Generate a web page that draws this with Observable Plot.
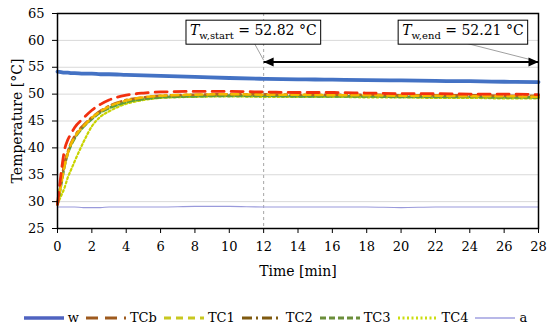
<!DOCTYPE html>
<html><head><meta charset="utf-8">
<script src="https://cdn.jsdelivr.net/npm/d3@7"></script>
<script src="https://cdn.jsdelivr.net/npm/@observablehq/plot@0.6"></script>
<style>
body{margin:0;background:#fff;font-family:"DejaVu Serif",serif;}
#legend{display:flex;justify-content:center;align-items:center;gap:6px;font-size:13px;padding-top:10px;width:550px;}
#legend .it{display:flex;align-items:center;gap:3px;}
</style>
</head><body>
<div id="chart"></div>
<div id="legend"></div>
<script>
// ---- data ----
const time = [0,0.2,0.4,0.6,0.8,1,1.5,2,2.5,3,4,5,6,8,10,12,14,16,18,20,22,24,26,28];
const w   = [54.2,54.1,54.0,54.0,53.9,53.9,53.8,53.8,53.7,53.7,53.6,53.5,53.4,53.2,53.0,52.85,52.75,52.7,52.6,52.55,52.45,52.4,52.3,52.25];
const TCb = [29.5,35,39.5,41.5,42.7,43.8,45.5,47,48.1,48.9,49.8,50.2,50.4,50.5,50.5,50.4,50.3,50.3,50.2,50.1,50.1,50.0,50.0,49.9];
const TC1 = [29.5,33,36.5,39,40.8,42,44,45.6,46.8,47.7,48.8,49.4,49.7,49.9,50.0,49.9,49.9,49.8,49.8,49.7,49.7,49.6,49.6,49.5];
const TC2 = [29.5,33.5,37,39.3,41,42.2,44.2,45.7,46.9,47.8,48.9,49.4,49.7,49.9,50.0,50.0,49.9,49.9,49.9,49.8,49.8,49.8,49.7,49.7];
const TC3 = [29.5,33,36.5,39,40.6,41.8,43.9,45.4,46.6,47.4,48.5,49.1,49.4,49.6,49.7,49.7,49.6,49.6,49.6,49.5,49.5,49.5,49.4,49.4];
const TC4 = [29.5,31,32.5,34.5,36,37.5,41,44,45.8,46.8,48.2,48.9,49.3,49.5,49.6,49.5,49.5,49.5,49.4,49.4,49.3,49.3,49.2,49.2];
const a   = [29.0,29.0,29.0,29.0,29.0,29.0,28.9,28.9,28.9,29.0,29.0,29.0,29.0,29.1,29.1,29.0,29.0,29.0,29.0,28.9,29.0,29.0,29.0,29.0];

const xTicks = [0,2,4,6,8,10,12,14,16,18,20,22,24,26,28];
const yTicks = [25,30,35,40,45,50,55,60,65];

const seriesNames = ["w","TCb","TC1","TC2","TC3","TC4","a"];
const seriesValues = [w,TCb,TC1,TC2,TC3,TC4,a];
const lineColors = ["#4472C4","#F2300F","#F5B800","#B8651A","#5E9E3A","#C9D400","#9A9ADB"];
const legendColors = ["#4F63C0","#9E5A1E","#C8C820","#7F5A10","#6B8E3A","#CCDD10","#A0A0E0"];
const dashes = [null,"12,7","7,5","10,4,2,4","6,3","2,2.5",null];
const widths = [3.8,2.8,2.5,2.5,2.8,2.2,1.2];

// annotations
const markTime = 12;
const arrowStart = 12, arrowEnd = 28, arrowTemp = 56;
const annoTime = [11.4, 23.6];
const annoTemp = [61.8, 61.8];
const annoSub = ["w,start","w,end"];
const annoVal = ["52.82","52.21"];
const leaderX1 = [11.4, 23.5], leaderY1 = [59.8, 59.7];
const leaderX2 = [12.0, 27.8], leaderY2 = [56.3, 56.2];

const rows = [];
seriesNames.forEach((s,k)=>time.forEach((t,i)=>rows.push({s,t,v:seriesValues[k][i]})));

const lineMarks = seriesNames.map((s,k)=>Plot.line(rows.filter(d=>d.s===s),{
  x:"t", y:"v", stroke:lineColors[k], strokeWidth:widths[k],
  strokeDasharray:dashes[k]||undefined, curve:"monotone-x"
}));

// filled arrowheads whose tip sits at the anchor point
const headRight = {draw(ctx){ctx.moveTo(0,0);ctx.lineTo(-10,-4.5);ctx.lineTo(-10,4.5);ctx.closePath();}};
const headLeft  = {draw(ctx){ctx.moveTo(0,0);ctx.lineTo(10,-4.5);ctx.lineTo(10,4.5);ctx.closePath();}};

const chart = Plot.plot({
  width:550, height:300,
  marginLeft:57, marginRight:12, marginTop:13, marginBottom:72,
  style:{fontFamily:"DejaVu Serif", fontSize:"13px", color:"#000", background:"#fff"},
  x:{domain:[0,28]},
  y:{domain:[25,65]},
  marks:[
    Plot.gridY(yTicks,{stroke:"#d9d9d9", strokeOpacity:1}),
    Plot.ruleX([markTime],{stroke:"#a6a6a6", strokeDasharray:"3,3"}),
    lineMarks[6], lineMarks[0], lineMarks[5], lineMarks[4], lineMarks[3], lineMarks[2], lineMarks[1],
    Plot.link([0,1],{x1:i=>leaderX1[i], y1:i=>leaderY1[i], x2:i=>leaderX2[i], y2:i=>leaderY2[i], stroke:"#a0a0a0", strokeWidth:1}),
    Plot.link([0],{x1:()=>arrowStart, x2:()=>arrowEnd, y1:()=>arrowTemp, y2:()=>arrowTemp, stroke:"#000", strokeWidth:2}),
    Plot.dot([arrowStart],{x:d=>d, y:()=>arrowTemp, symbol:headLeft, fill:"#000", stroke:null}),
    Plot.dot([arrowEnd],{x:d=>d, y:()=>arrowTemp, symbol:headRight, fill:"#000", stroke:null}),
    Plot.frame({stroke:"#000", strokeWidth:1.5}),
    Plot.axisX(xTicks,{tickSize:5, tickPadding:8, label:null, fontSize:13}),
    Plot.axisY(yTicks,{tickSize:5, tickPadding:8, label:null, fontSize:13}),
    Plot.text(["Time [min]"],{frameAnchor:"bottom", dy:47, fontSize:14}),
    Plot.text(["Temperature [°C]"],{frameAnchor:"left", dx:-40, rotate:-90, textAnchor:"middle", fontSize:14}),
    Plot.text([0,1],{x:i=>annoTime[i], y:i=>annoTemp[i], text:i=>annoVal[i], className:"anno", fontSize:14})
  ]
});
document.getElementById("chart").appendChild(chart);

// subscripted annotation text + boxes
d3.select(chart).selectAll(".anno text").each(function(i){
  const t = d3.select(this);
  t.text(null);
  t.append("tspan").attr("font-style","italic").text("T");
  t.append("tspan").attr("font-size","10px").attr("dy","4").text(annoSub[i]);
  t.append("tspan").attr("dy","-4").text(" = " + annoVal[i] + " °C");
  const bb = this.getBBox();
  const r = d3.select(this.parentNode).insert("rect", () => this)
    .attr("x", bb.x-4).attr("y", bb.y-2).attr("width", bb.width+8).attr("height", bb.height+5)
    .attr("fill","#fff").attr("stroke","#000").attr("stroke-width",1);
  const tr = this.getAttribute("transform");
  if (tr) r.attr("transform", tr);
});

// legend
const lg = d3.select("#legend");
seriesNames.forEach((s,k)=>{
  const it = lg.append("span").attr("class","it");
  const sv = it.append("svg").attr("width",42).attr("height",10);
  sv.append("line").attr("x1",1).attr("x2",41).attr("y1",5).attr("y2",5)
    .attr("stroke",legendColors[k]).attr("stroke-width",k===0?3.5:(k===6?1.5:2.8))
    .attr("stroke-dasharray",dashes[k]);
  it.append("span").text(s);
});
</script>
</body></html>
